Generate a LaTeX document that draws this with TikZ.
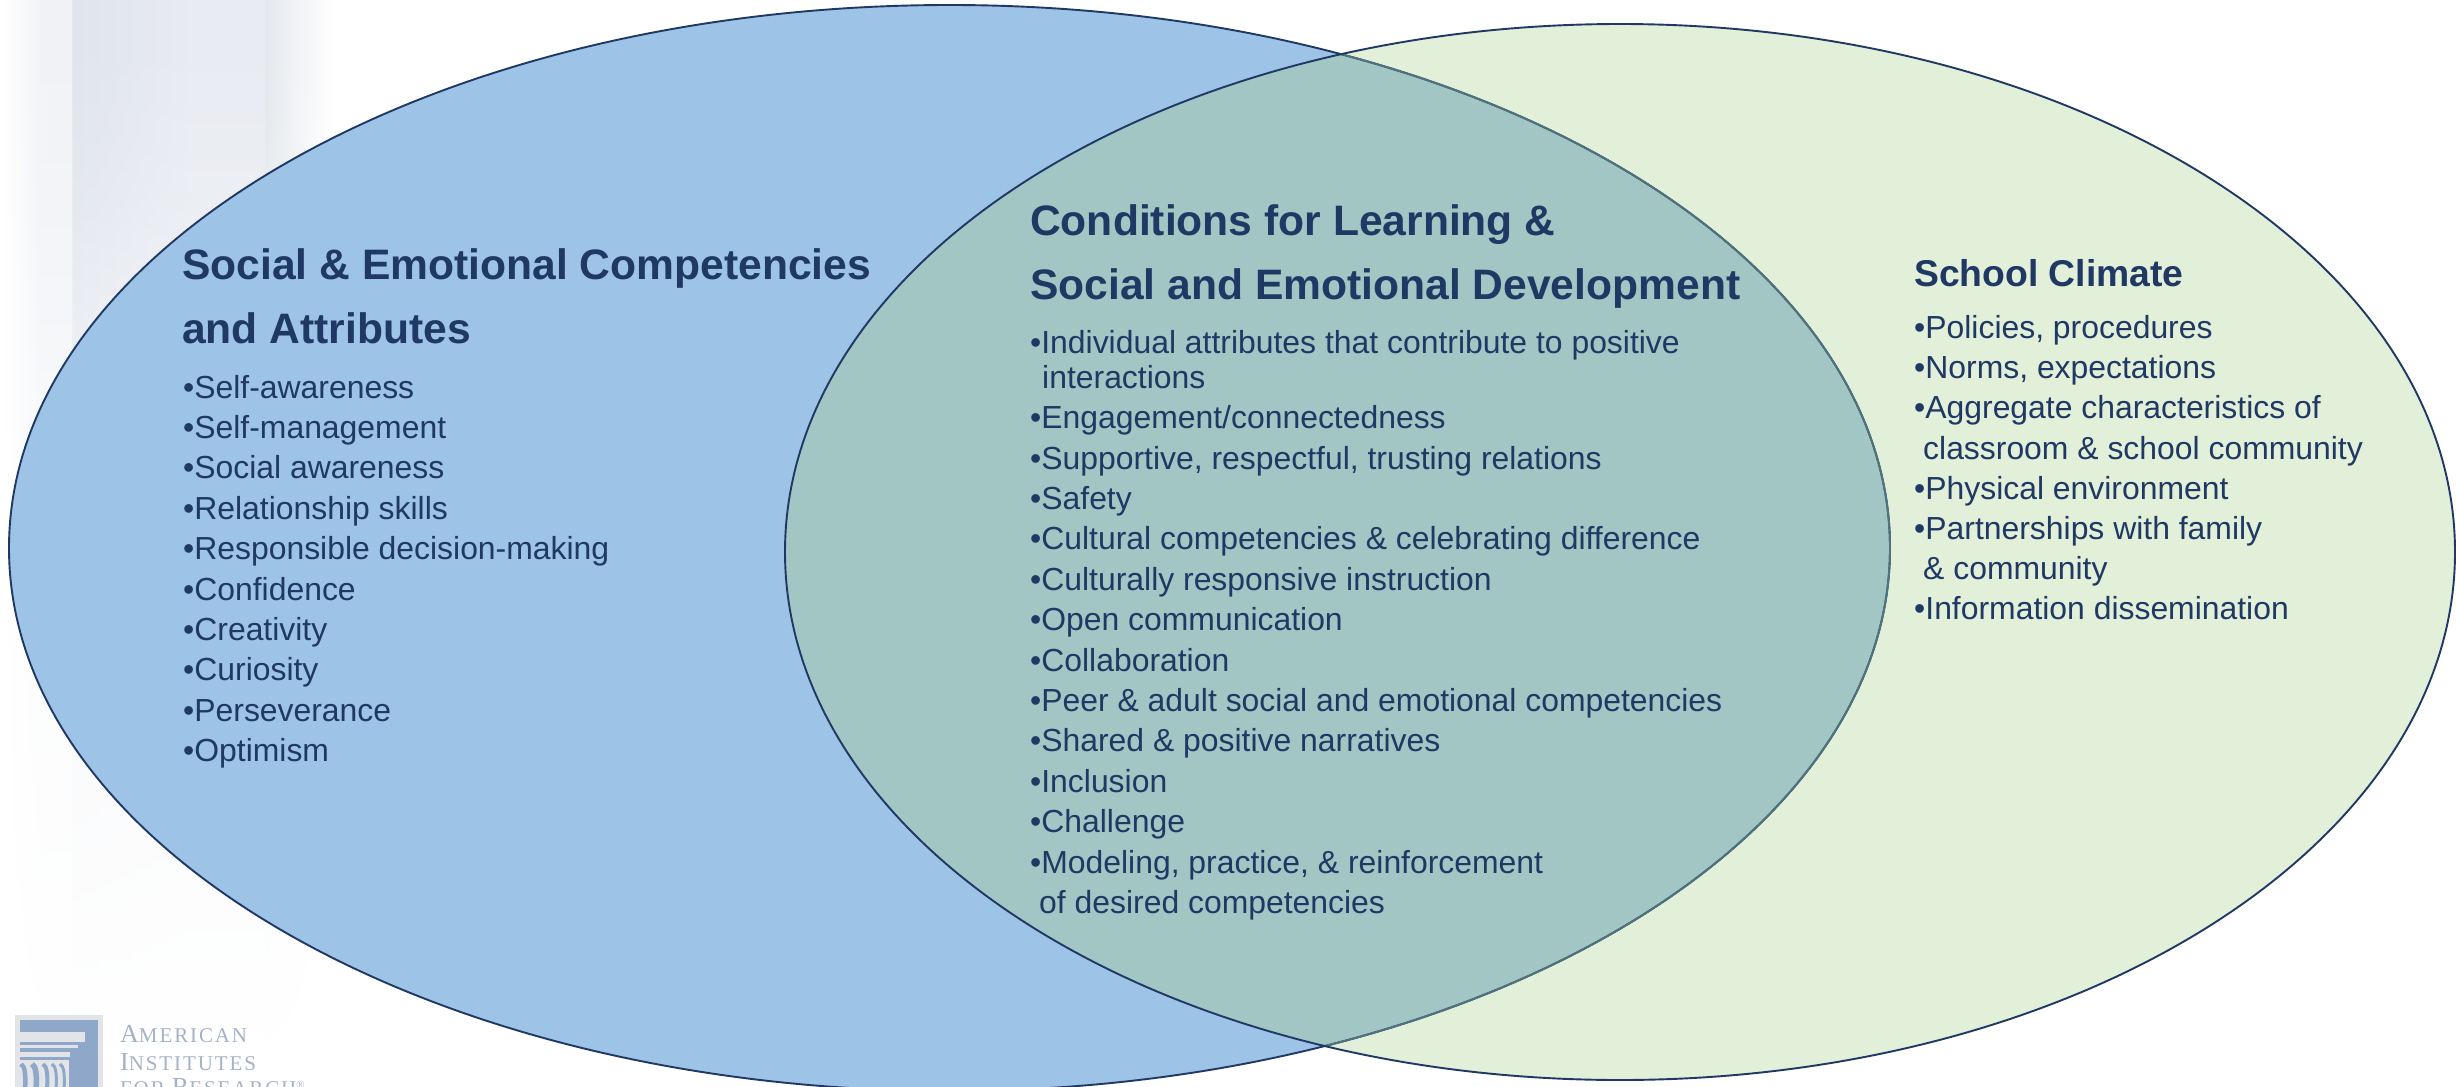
\documentclass[tikz,border=0pt]{standalone}
\usepackage{fontspec}
\setmainfont{Liberation Sans}
\newfontfamily\logofont[LetterSpace=9]{Liberation Serif}
\usetikzlibrary{fadings}
\definecolor{navy}{HTML}{1F3864}
\definecolor{blueset}{HTML}{9DC3E6}
\definecolor{greenset}{HTML}{E2EFD9}
\definecolor{overlapset}{HTML}{A1C6C4}
\definecolor{overlapline}{HTML}{50727C}
\definecolor{logoblue}{HTML}{8FA8C9}
\definecolor{logogrey}{HTML}{E2E4E8}
\definecolor{logotext}{HTML}{A5B2C6}
\definecolor{bandA}{HTML}{F0F2F6}
\definecolor{bandB}{HTML}{E0E4EC}
\definecolor{bandC}{HTML}{E8EBF1}
\definecolor{bandD}{HTML}{E4E7EB}
\definecolor{bandE}{HTML}{F1F3F6}
\pgfdeclarehorizontalshading{bgband}{100bp}{
  color(0bp)=(white);
  color(25.5bp)=(white);
  color(31bp)=(bandA);
  color(35.15bp)=(bandA);
  color(35.35bp)=(bandB);
  color(52.5bp)=(bandC);
  color(62.7bp)=(bandC);
  color(62.95bp)=(bandD);
  color(67.5bp)=(bandE);
  color(72.5bp)=(white);
  color(100bp)=(white)}
\pgfdeclareverticalshading{bgfadeshade}{100bp}{
  color(0bp)=(black);
  color(25bp)=(black);
  color(29bp)=(black!96!white);
  color(32.5bp)=(black!92!white);
  color(43bp)=(black!80!white);
  color(56.5bp)=(black!45!white);
  color(65bp)=(black!15!white);
  color(72bp)=(white);
  color(100bp)=(white)}
\pgfdeclarefading{bgfade}{\pgfuseshading{bgfadeshade}}
\tikzset{
  x=1pt,y=-1pt,
  titletext/.style={anchor=base west,inner sep=0pt,text=navy,font=\fontsize{42.6}{42.6}\selectfont\bfseries},
  bodytext/.style={anchor=base west,inner sep=0pt,text=navy,font=\fontsize{31.9}{31.9}\selectfont},
  logotype/.style={anchor=base west,inner sep=0pt,text=logotext,font=\logofont},
  setline/.style={draw=navy,line width=1.9pt}
}
\begin{document}
\begin{tikzpicture}
\useasboundingbox (0,0) rectangle (2458,1087);
\clip (0,0) rectangle (2458,1087);
% pale background bands
\path[shading=bgband,path fading=bgfade] (0,-20) rectangle (350,1087);
% sets
\path[fill=blueset] (949.5,548) ellipse [x radius=940.5,y radius=543];
\path[fill=greenset] (1620,552) ellipse [x radius=835,y radius=528];
\begin{scope}
  \clip (949.5,548) ellipse [x radius=940.5,y radius=543];
  \path[fill=overlapset] (1620,552) ellipse [x radius=835,y radius=528];
\end{scope}
\draw[setline] (949.5,548) ellipse [x radius=940.5,y radius=543];
\begin{scope}
  \clip (1620,552) ellipse [x radius=835,y radius=528];
  \draw[draw=overlapline,line width=1.9pt] (949.5,548) ellipse [x radius=940.5,y radius=543];
\end{scope}
\draw[setline] (1620,552) ellipse [x radius=835,y radius=528];
% left texts
\node[titletext] (lt1) at (182,279) {Social \& Emotional Competencies};
\node[titletext] (lt2) at (182,343) {and Attributes};
\foreach \i/\t in {0/Self-awareness,1/Self-management,2/Social awareness,3/Relationship skills,4/Responsible decision-making,5/Confidence,6/Creativity,7/Curiosity,8/Perseverance,9/Optimism}
  \node[bodytext] (l\i) at (183,398+40.4*\i) {•\t};
% middle texts
\node[titletext] (mt1) at (1030,235) {Conditions for Learning \&};
\node[titletext] (mt2) at (1030,299) {Social and Emotional Development};
\node[bodytext] (m0) at (1030,353) {•Individual attributes that contribute to positive};
\node[bodytext] (m0b) at (1042,388) {interactions};
\foreach \i/\t in {0/Engagement\slash connectedness,1/{Supportive, respectful, trusting relations},2/Safety,3/Cultural competencies \& celebrating difference,4/Culturally responsive instruction,5/Open communication,6/Collaboration,7/Peer \& adult social and emotional competencies,8/Shared \& positive narratives,9/Inclusion,10/Challenge,11/{Modeling, practice, \& reinforcement}}
  \node[bodytext] (m\i x) at (1030,428.6+40.4*\i) {•\t};
\node[bodytext] (mlast) at (1039,913) {of desired competencies};
% right texts
\node[titletext,font=\fontsize{37.3}{37.3}\selectfont\bfseries] (rt) at (1914,286) {School Climate};
\node[bodytext] (r0) at (1914,338) {•Policies, procedures};
\node[bodytext] (r1) at (1914,378) {•Norms, expectations};
\node[bodytext] (r2) at (1914,418) {•Aggregate characteristics of};
\node[bodytext] (r2b) at (1923,459) {classroom \& school community};
\node[bodytext] (r3) at (1914,499) {•Physical environment};
\node[bodytext] (r4) at (1914,539) {•Partnerships with family};
\node[bodytext] (r4b) at (1923,579) {\& community};
\node[bodytext] (r5) at (1914,619) {•Information dissemination};
% logo
\path[fill=logogrey] (15,1015) rectangle (103,1090);
\path[fill=logoblue] (20,1020) rectangle (98,1090);
\path[fill=logogrey] (20,1032) rectangle (85,1042);
\path[fill=logogrey] (20,1045) -- (78,1045) -- (78,1048) -- (20,1048) -- cycle;
\path[fill=logogrey] (20,1052) -- (70,1052) -- (70,1057) -- (20,1057) -- cycle;
\path[fill=logogrey] (20,1060) rectangle (69,1090);
\foreach \a/\w in {25/4.5,36/5.5,47/4,56/3,64/3}
  \draw[logoblue,line width=\w pt] (\a,1090) .. controls (\a+1,1075) and (\a,1066) .. (\a-4,1064);
\node[logotype] (logo1) at (120,1042) {\fontsize{26}{26}\selectfont A\fontsize{21}{21}\selectfont MERICAN};
\node[logotype] (logo2) at (120,1070) {\fontsize{26}{26}\selectfont I\fontsize{21}{21}\selectfont NSTITUTES};
\node[logotype] (logo3) at (120,1095) {\fontsize{21}{21}\selectfont FOR \fontsize{26}{26}\selectfont R\fontsize{21}{21}\selectfont ESEARCH\fontsize{11}{11}\selectfont\raisebox{1.2ex}{®}};
\end{tikzpicture}
\end{document}
